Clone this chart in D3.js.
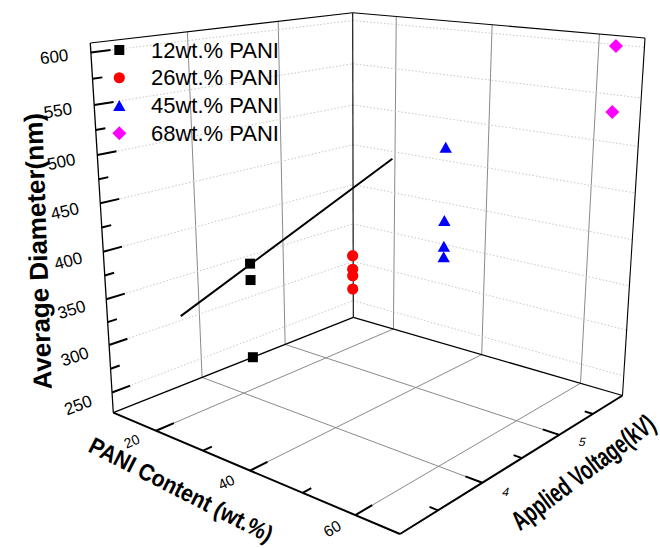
<!DOCTYPE html>
<html><head><meta charset="utf-8">
<script src="https://cdn.jsdelivr.net/npm/d3@7/dist/d3.min.js"></script>
<style>body{margin:0;background:#fff}</style>
</head><body><svg id="c" width="660" height="548"></svg>
<script>
// ---------------- data ----------------
const seriesNames = ["12wt.% PANI", "26wt.% PANI", "45wt.% PANI", "68wt.% PANI"];
const seriesPani = [12, 26, 45, 68];            // PANI content (wt.%)
const seriesVolt = [4.6, 5, 5, 5.55];            // applied voltage (kV)
const diam12 = [340, 320, 229];                  // average diameter (nm)
const diam26 = [358.5, 342.6, 334.9, 319];
const diam45 = [499.5, 421, 393.5, 382];
const diam68 = [607, 543.6];
const fitPani = [12, 12];                        // linear fit line
const fitVolt = [3.81, 6.59];
const fitDiam = [305, 420];
const paniDomain = [12, 68], voltDomain = [3, 6], diamDomain = [229, 609];
const paniTicks = [20, 40, 60], paniMinor = [30, 50];
const voltTicks = [4, 5], voltMinor = [3.5, 4.5, 5.5];
const diamTicks = [250, 300, 350, 400, 450, 500, 550, 600];
const diamMinor = [275, 325, 375, 425, 475, 525, 575];

// ---------------- projection (box corners + perspective warps of the axes) ----------------
const corner = {
  L:[113.3,412.7], F:[400,534], R:[622.5,395.5], B:[353.3,317.3],
  Lt:[90.3,43], Ft:[403.3,86.3], Rt:[645,38], Bt:[352.7,12.7]
};
const wP = d3.scaleLinear().domain([12,20,40,60,68]).range([0,0.149,0.477,0.844,1]);
const wV = d3.scaleLinear().domain([3,3.5,4,4.5,5,5.5,6]).range([0,0.171,0.370,0.548,0.716,0.867,1]);
const wD = d3.scaleLinear().domain([229,250,300,350,400,450,500,550,600,609])
  .range([0,0.0546,0.1831,0.3067,0.4355,0.5664,0.697,0.8323,0.9743,1]);
function bil(a,b,c,d,u,v,k){return (1-u)*(1-v)*a[k]+u*(1-v)*b[k]+u*v*c[k]+(1-u)*v*d[k];}
function proj(P,V,D){
  const u=wP(P),v=wV(V),w=wD(D),C=corner;
  return [0,1].map(k=>(1-w)*bil(C.L,C.F,C.R,C.B,u,v,k)+w*bil(C.Lt,C.Ft,C.Rt,C.Bt,u,v,k));
}
const [P0,P1]=paniDomain,[V0,V1]=voltDomain,[D0,D1]=diamDomain;

// ---------------- drawing ----------------
const svg=d3.select("#c");
const FONT="'Liberation Sans', Arial, Helvetica, sans-serif";
const line=d3.line();
function seg(g,a,b,stroke,width,dash){
  g.append("path").attr("d",line([proj(...a),proj(...b)])).attr("stroke",stroke)
   .attr("stroke-width",width).attr("fill","none").attr("stroke-dasharray",dash||null);
}
const grid=svg.append("g");
// floor grid
paniTicks.forEach(P=>seg(grid,[P,V0,D0],[P,V1,D0],"#8a8a8a",1));
voltTicks.forEach(V=>seg(grid,[P0,V,D0],[P1,V,D0],"#8a8a8a",1));
// back-left wall (PANI = min)
voltTicks.forEach(V=>seg(grid,[P0,V,D0],[P0,V,D1],"#8a8a8a",1));
diamTicks.forEach(D=>seg(grid,[P0,V0,D],[P0,V1,D],"#c8c8c8",1,"1.5,2"));
// back-right wall (voltage = max)
paniTicks.forEach(P=>seg(grid,[P,V1,D0],[P,V1,D1],"#8a8a8a",1));
diamTicks.forEach(D=>seg(grid,[P0,V1,D],[P1,V1,D],"#c8c8c8",1,"1.5,2"));
// box edges
const box=svg.append("g");
seg(box,[P0,V1,D0],[P0,V0,D0],"#000",1.3);
seg(box,[P0,V1,D0],[P1,V1,D0],"#000",1.3);
seg(box,[P0,V0,D0],[P1,V0,D0],"#000",2);
seg(box,[P1,V0,D0],[P1,V1,D0],"#000",2);
seg(box,[P0,V0,D0],[P0,V0,D1],"#000",1.3);
seg(box,[P0,V1,D0],[P0,V1,D1],"#000",1.1);
seg(box,[P1,V1,D0],[P1,V1,D1],"#000",1.1);
seg(box,[P0,V0,D1],[P0,V1,D1],"#000",1.1);
seg(box,[P0,V1,D1],[P1,V1,D1],"#000",1.1);
// ticks
paniTicks.forEach(P=>seg(box,[P,V0,D0],[P,V0+0.22,D0],"#000",2));
paniMinor.forEach(P=>seg(box,[P,V0,D0],[P,V0+0.11,D0],"#000",2));
voltTicks.forEach(V=>seg(box,[P1,V,D0],[P1-3.1,V,D0],"#000",2));
voltMinor.forEach(V=>seg(box,[P1,V,D0],[P1-1.55,V,D0],"#000",2));
diamTicks.forEach(D=>seg(box,[P0,V0,D],[P0,V0+0.22,D],"#000",2));
diamMinor.forEach(D=>seg(box,[P0,V0,D],[P0,V0+0.11,D],"#000",2));
// tick labels
function angleAlong(a,b){const p=proj(...a),q=proj(...b);return Math.atan2(q[1]-p[1],q[0]-p[0])*180/Math.PI;}
const lab=svg.append("g").attr("font-family",FONT).attr("fill","#000");
diamTicks.forEach(D=>{
  const p=proj(P0,V0-0.41,D),ang=angleAlong([P0,V0,D],[P0,V0+0.5,D]);
  lab.append("text").attr("transform",`translate(${p[0]},${p[1]}) rotate(${ang})`)
    .attr("text-anchor","middle").attr("dominant-baseline","central")
    .attr("font-size",17).text(D);
});
const paniFont=d3.scaleLinear().domain(paniDomain).range([13.5,16]);
paniTicks.forEach(P=>{
  const p=proj(P,V0-0.30,D0),ang=angleAlong([P,V0,D0],[P,V0+0.5,D0]);
  lab.append("text").attr("transform",`translate(${p[0]},${p[1]}) rotate(${ang})`)
    .attr("text-anchor","middle").attr("dominant-baseline","central")
    .attr("font-size",paniFont(P)).text(P);
});
voltTicks.forEach(V=>{
  const p=proj(P1+4.3,V,D0);
  lab.append("text").attr("transform",`translate(${p[0]},${p[1]}) skewX(-15)`)
    .attr("text-anchor","middle").attr("dominant-baseline","central")
    .attr("font-size",12).text(V);
});
// axis titles
const tt=svg.append("g").attr("font-family",FONT).attr("font-weight","bold").attr("fill","#000");
tt.append("text").attr("transform","translate(47,251) rotate(-92)").attr("text-anchor","middle")
  .attr("font-size",26).text("Average Diameter(nm)");
tt.append("text").attr("transform","translate(181,490) rotate(27) scale(0.9,1)").attr("text-anchor","middle")
  .attr("dominant-baseline","central").attr("font-size",23.5).text("PANI Content (wt.%)");
tt.append("text").attr("transform","translate(583,472) rotate(-37) scale(0.68,1)").attr("text-anchor","middle")
  .attr("dominant-baseline","central").attr("font-size",27).text("Applied Voltage(kV)");
// fit line
svg.append("path").attr("d",line(fitPani.map((P,i)=>proj(P,fitVolt[i],fitDiam[i]))))
  .attr("stroke","#000").attr("stroke-width",2).attr("fill","none");
// symbols
const colors=["#000000","#ff0000","#0000ff","#ff00ff"];
const symPath=[
  "M-5,-5H5V5H-5Z",
  "M5.6,0A5.6,5.6 0 1 1 -5.6,0A5.6,5.6 0 1 1 5.6,0Z",
  "M0,-5.5L6.2,5.5H-6.2Z",
  "M0,-7L7,0L0,7L-7,0Z"
];
const diams=[diam12,diam26,diam45,diam68];
const pts=svg.append("g");
diams.forEach((arr,s)=>{
  pts.selectAll(null).data(arr).enter().append("path")
    .attr("d",symPath[s]).attr("fill",colors[s])
    .attr("transform",d=>{const p=proj(seriesPani[s],seriesVolt[s],d);return `translate(${p[0]},${p[1]})`;});
});
// legend
const leg=svg.append("g").attr("font-family",FONT);
const legY=d3.scaleLinear().domain([0,3]).range([50,133.3]);
seriesNames.forEach((n,i)=>{
  leg.append("path").attr("d",symPath[i]).attr("fill",colors[i]).attr("transform",`translate(119.3,${legY(i)})`);
  leg.append("text").attr("x",151).attr("y",legY(i)).attr("dominant-baseline","central").attr("font-size",22).text(n);
});
</script></body></html>
